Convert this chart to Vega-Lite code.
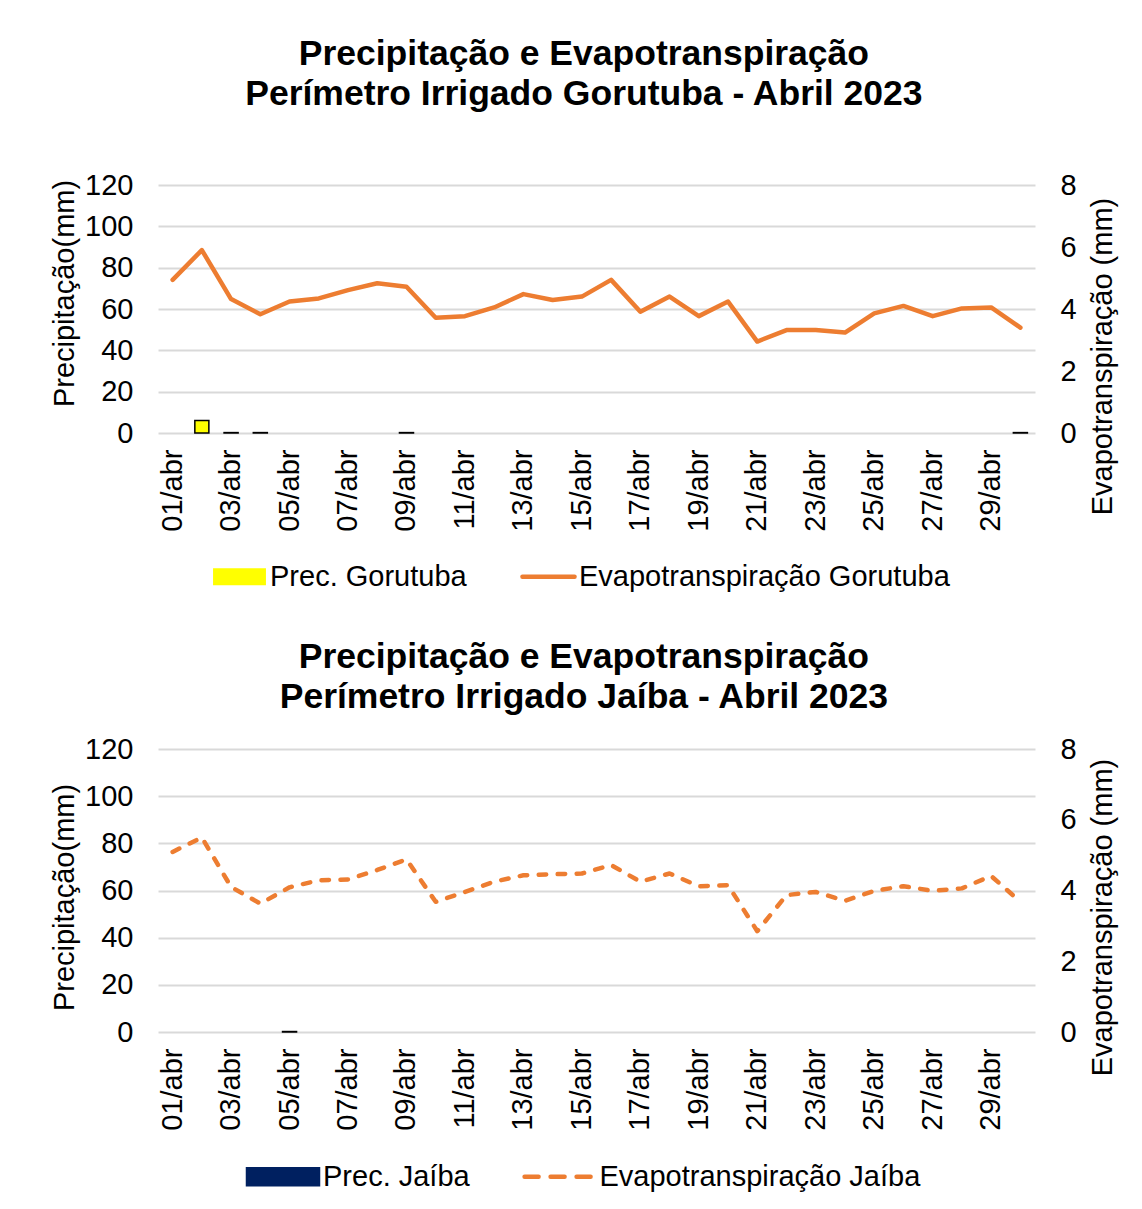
{
  "$schema": "https://vega.github.io/schema/vega-lite/v6.json",
  "padding": {"left": 50, "top": 36, "right": 10, "bottom": 5},
  "spacing": 47,
  "config": {
    "view": {"stroke": null},
    "font": "Liberation Sans",
    "axis": {"labelFont": "Liberation Sans", "titleFont": "Liberation Sans", "labelColor": "#000000", "titleColor": "#000000", "labelFontSize": 29, "titleFontSize": 29, "titleFontWeight": "normal", "ticks": false, "domain": false},
    "legend": {"labelFont": "Liberation Sans", "labelFontSize": 29, "labelColor": "#000000", "labelLimit": 0, "padding": 0},
    "title": {"font": "Liberation Sans", "fontSize": 35.5, "fontWeight": "bold", "color": "#000000", "lineHeight": 40, "anchor": "middle", "frame": "bounds"}
  },
  "datasets": {
    "gorutuba": [
      {"dia": "01/abr", "prec": null, "et": 4.94},
      {"dia": "02/abr", "prec": 6.0, "et": 5.90},
      {"dia": "03/abr", "prec": 0.2, "et": 4.32},
      {"dia": "04/abr", "prec": 0.2, "et": 3.83},
      {"dia": "05/abr", "prec": null, "et": 4.24},
      {"dia": "06/abr", "prec": null, "et": 4.34},
      {"dia": "07/abr", "prec": null, "et": 4.61},
      {"dia": "08/abr", "prec": null, "et": 4.83},
      {"dia": "09/abr", "prec": 0.2, "et": 4.72},
      {"dia": "10/abr", "prec": null, "et": 3.72},
      {"dia": "11/abr", "prec": null, "et": 3.77},
      {"dia": "12/abr", "prec": null, "et": 4.05},
      {"dia": "13/abr", "prec": null, "et": 4.48},
      {"dia": "14/abr", "prec": null, "et": 4.29},
      {"dia": "15/abr", "prec": null, "et": 4.40},
      {"dia": "16/abr", "prec": null, "et": 4.94},
      {"dia": "17/abr", "prec": null, "et": 3.91},
      {"dia": "18/abr", "prec": null, "et": 4.40},
      {"dia": "19/abr", "prec": null, "et": 3.77},
      {"dia": "20/abr", "prec": null, "et": 4.24},
      {"dia": "21/abr", "prec": null, "et": 2.95},
      {"dia": "22/abr", "prec": null, "et": 3.32},
      {"dia": "23/abr", "prec": null, "et": 3.32},
      {"dia": "24/abr", "prec": null, "et": 3.24},
      {"dia": "25/abr", "prec": null, "et": 3.86},
      {"dia": "26/abr", "prec": null, "et": 4.10},
      {"dia": "27/abr", "prec": null, "et": 3.77},
      {"dia": "28/abr", "prec": null, "et": 4.02},
      {"dia": "29/abr", "prec": null, "et": 4.05},
      {"dia": "30/abr", "prec": 0.2, "et": 3.40}
    ],
    "jaiba": [
      {"dia": "01/abr", "prec": null, "et": 5.09},
      {"dia": "02/abr", "prec": null, "et": 5.50},
      {"dia": "03/abr", "prec": null, "et": 4.10},
      {"dia": "04/abr", "prec": null, "et": 3.63},
      {"dia": "05/abr", "prec": 0.2, "et": 4.09},
      {"dia": "06/abr", "prec": null, "et": 4.29},
      {"dia": "07/abr", "prec": null, "et": 4.31},
      {"dia": "08/abr", "prec": null, "et": 4.58},
      {"dia": "09/abr", "prec": null, "et": 4.88},
      {"dia": "10/abr", "prec": null, "et": 3.68},
      {"dia": "11/abr", "prec": null, "et": 3.96},
      {"dia": "12/abr", "prec": null, "et": 4.25},
      {"dia": "13/abr", "prec": null, "et": 4.43},
      {"dia": "14/abr", "prec": null, "et": 4.46},
      {"dia": "15/abr", "prec": null, "et": 4.48},
      {"dia": "16/abr", "prec": null, "et": 4.72},
      {"dia": "17/abr", "prec": null, "et": 4.25},
      {"dia": "18/abr", "prec": null, "et": 4.48},
      {"dia": "19/abr", "prec": null, "et": 4.12},
      {"dia": "20/abr", "prec": null, "et": 4.15},
      {"dia": "21/abr", "prec": null, "et": 2.85},
      {"dia": "22/abr", "prec": null, "et": 3.87},
      {"dia": "23/abr", "prec": null, "et": 3.96},
      {"dia": "24/abr", "prec": null, "et": 3.71},
      {"dia": "25/abr", "prec": null, "et": 3.99},
      {"dia": "26/abr", "prec": null, "et": 4.12},
      {"dia": "27/abr", "prec": null, "et": 3.99},
      {"dia": "28/abr", "prec": null, "et": 4.06},
      {"dia": "29/abr", "prec": null, "et": 4.41},
      {"dia": "30/abr", "prec": null, "et": 3.68}
    ]
  },
  "resolve": {"scale": {"color": "independent"}, "legend": {"color": "independent"}},
  "vconcat": [
    {
      "width": 877,
      "height": 248,
      "data": {"name": "gorutuba"},
      "title": {"text": ["Precipitação e Evapotranspiração", "Perímetro Irrigado Gorutuba - Abril 2023"], "offset": 59},
      "encoding": {
        "x": {"field": "dia", "type": "ordinal",
              "scale": {"type": "band", "paddingInner": 0, "paddingOuter": 0, "domain": ["01/abr","02/abr","03/abr","04/abr","05/abr","06/abr","07/abr","08/abr","09/abr","10/abr","11/abr","12/abr","13/abr","14/abr","15/abr","16/abr","17/abr","18/abr","19/abr","20/abr","21/abr","22/abr","23/abr","24/abr","25/abr","26/abr","27/abr","28/abr","29/abr","30/abr"]},
              "axis": {"title": null, "labelAngle": -90, "labelPadding": 16, "values": ["01/abr","03/abr","05/abr","07/abr","09/abr","11/abr","13/abr","15/abr","17/abr","19/abr","21/abr","23/abr","25/abr","27/abr","29/abr"]}}
      },
      "layer": [
        {
          "mark": {"type": "bar", "width": {"band": 0.48}, "stroke": "#000000", "strokeWidth": 1.5},
          "encoding": {
            "y": {"field": "prec", "type": "quantitative", "scale": {"domain": [0, 120], "nice": false},
                  "axis": {"title": "Precipitação(mm)", "values": [0,20,40,60,80,100,120], "grid": true, "gridColor": "#d9d9d9", "gridWidth": 2, "labelPadding": 25, "titlePadding": 5, "titleY": 108}},
            "color": {"datum": "Prec. Gorutuba", "type": "nominal",
                      "scale": {"domain": ["Prec. Gorutuba", "Evapotranspiração Gorutuba"], "range": ["#FFFF00", "#ED7D31"]},
                      "legend": {"title": null, "orient": "none", "legendX": 67, "legendY": 377, "direction": "horizontal", "columnPadding": 46, "symbolSize": 3136, "labelOffset": 16, "labelLimit": 0,
                                 "encode": {"symbols": {"update": {
                                   "shape": {"signal": "datum.value === 'Prec. Gorutuba' ? 'M-0.9,-0.26H0.9V0.26H-0.9Z' : 'M-0.93,0H0.93'"},
                                   "fill": {"signal": "datum.value === 'Prec. Gorutuba' ? '#FFFF00' : 'transparent'"},
                                   "stroke": {"signal": "datum.value === 'Prec. Gorutuba' ? '#000000' : '#ED7D31'"},
                                   "strokeWidth": {"signal": "datum.value === 'Prec. Gorutuba' ? 2.5 : 4.5"},
                                   "strokeCap": {"value": "round"},
                                   "strokeOpacity": {"value": 1},
                                   "fillOpacity": {"value": 1},
                                   "opacity": {"value": 1}
                                 }}}}}
          }
        },
        {
          "mark": {"type": "line", "strokeWidth": 4.5, "strokeCap": "round", "strokeJoin": "round"},
          "encoding": {
            "y": {"field": "et", "type": "quantitative", "scale": {"domain": [0, 8], "nice": false},
                  "axis": {"orient": "right", "title": "Evapotranspiração (mm)", "values": [0,2,4,6,8], "grid": false, "labelPadding": 25, "titlePadding": 12, "titleAngle": 270, "titleBaseline": "top", "titleY": 171}},
            "color": {"datum": "Evapotranspiração Gorutuba", "type": "nominal",
                      "legend": {"title": null, "orient": "none", "legendX": 67, "legendY": 377, "direction": "horizontal", "columnPadding": 46, "symbolSize": 3136, "labelOffset": 16, "labelLimit": 0,
                                 "encode": {"symbols": {"update": {
                                   "shape": {"signal": "datum.value === 'Prec. Gorutuba' ? 'M-0.9,-0.26H0.9V0.26H-0.9Z' : 'M-0.93,0H0.93'"},
                                   "fill": {"signal": "datum.value === 'Prec. Gorutuba' ? '#FFFF00' : 'transparent'"},
                                   "stroke": {"signal": "datum.value === 'Prec. Gorutuba' ? '#000000' : '#ED7D31'"},
                                   "strokeWidth": {"signal": "datum.value === 'Prec. Gorutuba' ? 2.5 : 4.5"},
                                   "strokeCap": {"value": "round"},
                                   "strokeOpacity": {"value": 1},
                                   "fillOpacity": {"value": 1},
                                   "opacity": {"value": 1}
                                 }}}}}
          }
        }
      ],
      "resolve": {"scale": {"y": "independent"}}
    },
    {
      "width": 877,
      "height": 283,
      "data": {"name": "jaiba"},
      "title": {"text": ["Precipitação e Evapotranspiração", "Perímetro Irrigado Jaíba - Abril 2023"], "offset": 20},
      "encoding": {
        "x": {"field": "dia", "type": "ordinal",
              "scale": {"type": "band", "paddingInner": 0, "paddingOuter": 0, "domain": ["01/abr","02/abr","03/abr","04/abr","05/abr","06/abr","07/abr","08/abr","09/abr","10/abr","11/abr","12/abr","13/abr","14/abr","15/abr","16/abr","17/abr","18/abr","19/abr","20/abr","21/abr","22/abr","23/abr","24/abr","25/abr","26/abr","27/abr","28/abr","29/abr","30/abr"]},
              "axis": {"title": null, "labelAngle": -90, "labelPadding": 16, "values": ["01/abr","03/abr","05/abr","07/abr","09/abr","11/abr","13/abr","15/abr","17/abr","19/abr","21/abr","23/abr","25/abr","27/abr","29/abr"]}}
      },
      "layer": [
        {
          "mark": {"type": "bar", "width": {"band": 0.48}, "stroke": "#000000", "strokeWidth": 1.5},
          "encoding": {
            "y": {"field": "prec", "type": "quantitative", "scale": {"domain": [0, 120], "nice": false},
                  "axis": {"title": "Precipitação(mm)", "values": [0,20,40,60,80,100,120], "grid": true, "gridColor": "#d9d9d9", "gridWidth": 2, "labelPadding": 25, "titlePadding": 5, "titleY": 148}},
            "color": {"datum": "Prec. Jaíba", "type": "nominal",
                      "scale": {"domain": ["Prec. Jaíba", "Evapotranspiração Jaíba"], "range": ["#002060", "#ED7D31"]},
                      "legend": {"title": null, "orient": "none", "legendX": 110.5, "legendY": 413, "direction": "horizontal", "columnPadding": 44.5, "symbolSize": 5184, "labelOffset": 25.5, "labelLimit": 0,
                                 "encode": {"symbols": {"update": {
                                   "shape": {"signal": "datum.value === 'Prec. Jaíba' ? 'M-1,-0.236H1V0.236H-1Z' : 'M-0.97,0H0.97'"},
                                   "fill": {"signal": "datum.value === 'Prec. Jaíba' ? '#002060' : 'transparent'"},
                                   "stroke": {"signal": "datum.value === 'Prec. Jaíba' ? '#000000' : '#ED7D31'"},
                                   "strokeWidth": {"signal": "datum.value === 'Prec. Jaíba' ? 2.5 : 4.5"},
                                   "strokeDash": {"signal": "datum.value === 'Prec. Jaíba' ? [] : [14, 12]"},
                                   "strokeCap": {"value": "round"},
                                   "strokeOpacity": {"value": 1},
                                   "fillOpacity": {"value": 1},
                                   "opacity": {"value": 1}
                                 }}}}}
          }
        },
        {
          "mark": {"type": "line", "strokeWidth": 4.5, "strokeCap": "round", "strokeJoin": "round", "strokeDash": [7.5, 11.5]},
          "encoding": {
            "y": {"field": "et", "type": "quantitative", "scale": {"domain": [0, 8], "nice": false},
                  "axis": {"orient": "right", "title": "Evapotranspiração (mm)", "values": [0,2,4,6,8], "grid": false, "labelPadding": 25, "titlePadding": 12, "titleAngle": 270, "titleBaseline": "top", "titleY": 168}},
            "color": {"datum": "Evapotranspiração Jaíba", "type": "nominal",
                      "legend": {"title": null, "orient": "none", "legendX": 110.5, "legendY": 413, "direction": "horizontal", "columnPadding": 44.5, "symbolSize": 5184, "labelOffset": 25.5, "labelLimit": 0,
                                 "encode": {"symbols": {"update": {
                                   "shape": {"signal": "datum.value === 'Prec. Jaíba' ? 'M-1,-0.236H1V0.236H-1Z' : 'M-0.97,0H0.97'"},
                                   "fill": {"signal": "datum.value === 'Prec. Jaíba' ? '#002060' : 'transparent'"},
                                   "stroke": {"signal": "datum.value === 'Prec. Jaíba' ? '#000000' : '#ED7D31'"},
                                   "strokeWidth": {"signal": "datum.value === 'Prec. Jaíba' ? 2.5 : 4.5"},
                                   "strokeDash": {"signal": "datum.value === 'Prec. Jaíba' ? [] : [14, 12]"},
                                   "strokeCap": {"value": "round"},
                                   "strokeOpacity": {"value": 1},
                                   "fillOpacity": {"value": 1},
                                   "opacity": {"value": 1}
                                 }}}}}
          }
        }
      ],
      "resolve": {"scale": {"y": "independent"}}
    }
  ]
}
